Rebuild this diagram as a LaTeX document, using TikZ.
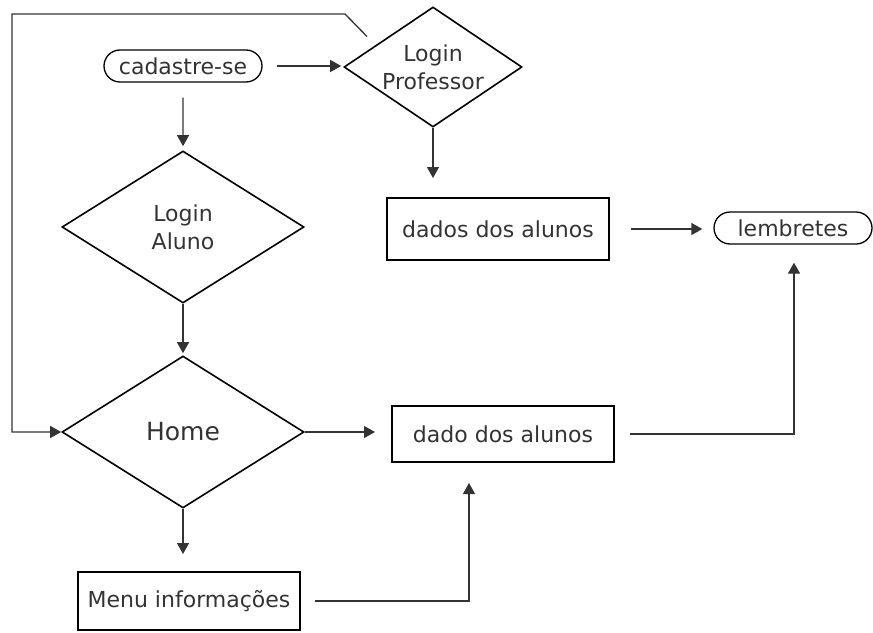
\documentclass[tikz,border=0pt]{standalone}
\usepackage{fontspec}
\setmainfont{DejaVu Sans}
\usetikzlibrary{shapes.geometric,shapes.misc,arrows.meta}

\begin{document}
\begin{tikzpicture}[x=1pt, y=-1pt,
    box/.style={draw, line width=2pt, rectangle, minimum width=222pt, inner sep=0pt},
    decision/.style={draw, line width=1.6pt, diamond, aspect=1.5, inner sep=0pt, align=center},
    terminal/.style={draw, line width=1.3pt, rounded rectangle, minimum width=158pt, minimum height=32pt, inner sep=0pt},
    flow/.style={-{Triangle[length=11pt,width=12pt]}, line width=1.3pt, black!80},
    font=\fontsize{22}{28}\selectfont, text=black!80]
    \useasboundingbox (0,0) rectangle (873,632);

    \node (cadastro) [terminal] at (183,66) {cadastre-se};
    \node (loginprof) [decision, minimum width=178pt, minimum height=120pt] at (433,67) {Login\\Professor};
    \node (dadosprof) [box, minimum height=62pt] at (498,229) {dados dos alunos};
    \node (lembretes) [terminal] at (793,228) {lembretes};

    \node (loginaluno) [decision, minimum width=242pt, minimum height=152pt] at (183,227) {Login\\Aluno};
    \node (home) [decision, minimum width=242pt, minimum height=152pt, font=\fontsize{25}{28}\selectfont] at (183,432) {Home};
    \node (dadoaluno) [box, minimum height=56pt] at (503,434) {dado dos alunos};
    \node (menu) [box, minimum height=58pt] at (189,601) {Menu informações};

    % Arrows
    \draw[flow, shorten <=14pt, shorten >=2pt] (cadastro.east) -- (cadastro.east -| loginprof.west);
    \draw[flow, shorten <=15pt, shorten >=4pt] (cadastro) -- (loginaluno);
    \draw[flow, shorten >=19pt] (loginprof.south) -- (loginprof.south |- dadosprof.north);
    \draw[flow, shorten <=21pt, shorten >=11pt] (dadosprof.east) -- (dadosprof.east -| lembretes.west);
    \draw[flow, shorten >=2pt] (loginaluno) -- (home);
    \draw[flow, shorten >=16pt] (home.east) -- (home.east -| dadoaluno.west);
    \draw[flow, shorten >=17pt] (home.south) -- (home.south |- menu.north);
    \draw[flow, shorten <=14pt, shorten >=20pt] (menu.east) -| ([xshift=-34pt]dadoaluno.south);
    \draw[flow, shorten <=15pt, shorten >=18pt] (dadoaluno.east) -| ([xshift=1pt]lembretes.south);
    \draw[flow] ([xshift=-21pt]loginprof.north west) -- (345,14) -- (12,14) |- (home.west);
\end{tikzpicture}
\end{document}
